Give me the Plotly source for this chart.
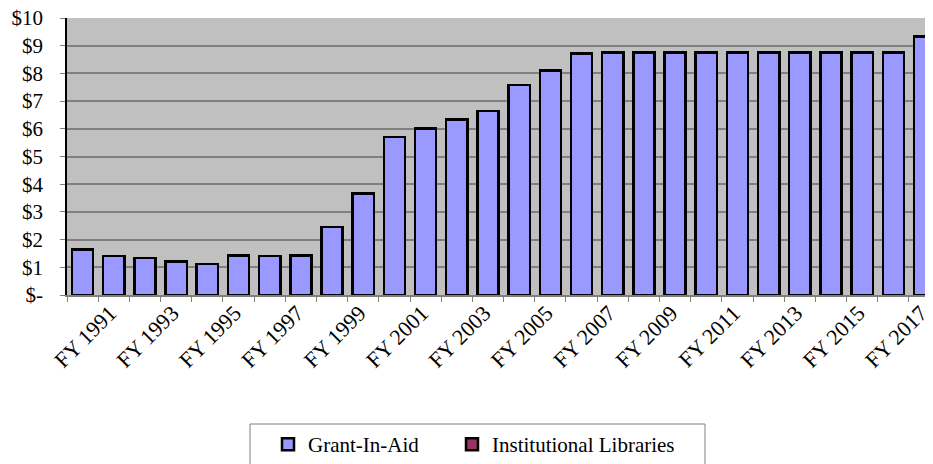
import plotly.graph_objects as go

years = [f"FY {y}" for y in range(1991, 2019)]
grant_in_aid = [1.64, 1.40, 1.33, 1.21, 1.12, 1.43, 1.41, 1.42, 2.45, 3.66,
                5.70, 6.01, 6.34, 6.64, 7.59, 8.10, 8.71, 8.75, 8.75, 8.75,
                8.75, 8.75, 8.75, 8.75, 8.75, 8.75, 8.75, 9.33]
institutional_libraries = [0.0] * len(years)
y_ticks = [0, 1, 2, 3, 4, 5, 6, 7, 8, 9, 10]
y_ticktext = ["$-", "$1", "$2", "$3", "$4", "$5", "$6", "$7", "$8", "$9", "$10"]

xpos = list(range(len(years)))
FONT = "Times New Roman, Liberation Serif, serif"

# page is rendered with an 8px body margin; compensate
OFF = 8
W, H = 933 - OFF, 464 - OFF
ML, MT = 67 - OFF, 18 - OFF
PW, PH = W - ML, 277
MB = H - MT - PH

def px_x(p):  # page pixel -> paper x
    return (p - OFF - ML) / PW

def px_y(p):  # page pixel -> paper y
    return (MT + PH - (p - OFF)) / PH

fig = go.Figure()
fig.add_trace(go.Bar(x=xpos, y=grant_in_aid, name="Grant-In-Aid", legend="legend",
                     marker=dict(color="#9999FF", line=dict(color="black", width=2.5))))
fig.add_trace(go.Bar(x=xpos, y=institutional_libraries, name="Institutional Libraries",
                     legend="legend2",
                     marker=dict(color="#993366", line=dict(color="black", width=2.5))))

lab_idx = list(range(0, len(years), 2))
shift = 0.88
fig.add_trace(go.Scatter(x=[0], y=[0], xaxis="x2", mode="markers",
                         marker=dict(opacity=0), showlegend=False, hoverinfo="skip"))

leg_common = dict(orientation="h", xanchor="left", yanchor="top", y=px_y(424),
                  font=dict(family=FONT, size=21, color="black"),
                  bgcolor="rgba(0,0,0,0)", itemclick=False, itemdoubleclick=False)

xr = [-0.5, 27.27]
fig.update_layout(
    width=W, height=H,
    margin=dict(l=ML, r=0, t=MT, b=MB, autoexpand=False),
    paper_bgcolor="white", plot_bgcolor="#C0C0C0",
    barmode="stack", bargap=0.32,
    font=dict(family=FONT, size=21, color="black"),
    showlegend=True,
    legend=dict(x=px_x(268), **leg_common),
    legend2=dict(x=px_x(452), **leg_common),
    xaxis=dict(range=xr, tickmode="array", automargin=False,
               tickvals=[i - 0.5 for i in range(len(years) + 1)],
               ticktext=[""] * (len(years) + 1),
               ticks="outside", ticklen=5, tickcolor="#808080", tickwidth=1,
               showline=True, linecolor="#808080", linewidth=1.5,
               showgrid=False, zeroline=False),
    xaxis2=dict(range=xr, overlaying="x", side="bottom", tickmode="array", automargin=False,
                tickvals=[i + shift for i in lab_idx],
                ticktext=[years[i] for i in lab_idx],
                tickangle=-45, ticks="", showline=False, showgrid=False,
                ticklabeloverflow="allow",
                zeroline=False, tickfont=dict(family=FONT, size=22, color="black")),
    yaxis=dict(range=[0, 10], tickmode="array", tickvals=y_ticks, ticktext=y_ticktext,
               automargin=False, ticklabeloverflow="allow",
               ticks="outside", ticklen=5, tickcolor="#808080", tickwidth=1,
               showline=True, linecolor="black", linewidth=1.5,
               showgrid=True, gridcolor="#808080", gridwidth=1.5,
               zeroline=False, ticklabelstandoff=13,
               tickfont=dict(family=FONT, size=21, color="black")),
    shapes=[dict(type="rect", xref="paper", yref="paper",
                 x0=px_x(250), x1=px_x(705),
                 y0=px_y(472), y1=px_y(424),
                 line=dict(color="#808080", width=1), fillcolor="rgba(0,0,0,0)")],
)

fig.write_html("out.html")
